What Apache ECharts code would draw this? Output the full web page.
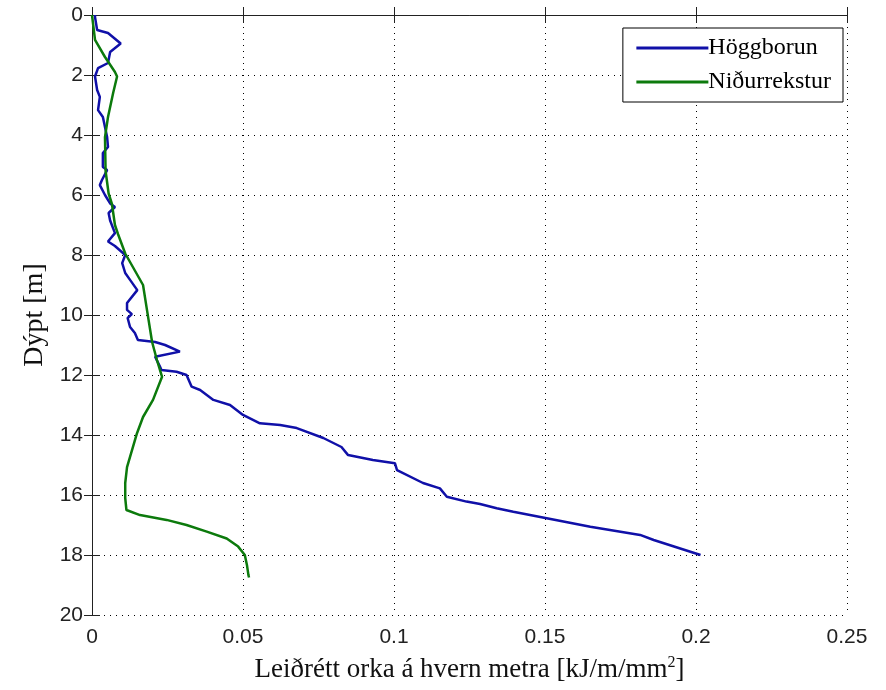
<!DOCTYPE html>
<html>
<head>
<meta charset="utf-8">
<script src="https://cdn.jsdelivr.net/npm/echarts@6/dist/echarts.min.js"></script>
<style>
  html, body { margin: 0; padding: 0; background: #fff; }
  #chart { width: 886px; height: 690px; }
</style>
</head>
<body>
<div id="chart"></div>
<script>
// Höggborun: energy per metre vs depth
const hoggEnergy = [0.001, 0.001, 0.0017, 0.0053, 0.0095, 0.006, 0.0053, 0.002, 0.001, 0.0017, 0.0026, 0.002, 0.0036, 0.005, 0.0053, 0.0036, 0.0036, 0.005, 0.0033, 0.0026, 0.0043, 0.006, 0.0076, 0.0055, 0.006, 0.0076, 0.0053, 0.0076, 0.011, 0.01, 0.011, 0.0126, 0.015, 0.0116, 0.0116, 0.0132, 0.0118, 0.0126, 0.0142, 0.0152, 0.0209, 0.0242, 0.0291, 0.0209, 0.0225, 0.023, 0.028, 0.0313, 0.033, 0.0358, 0.0402, 0.0457, 0.05, 0.0556, 0.0623, 0.0678, 0.0766, 0.0826, 0.0848, 0.093, 0.1003, 0.101, 0.1096, 0.1152, 0.1175, 0.124, 0.1285, 0.134, 0.1395, 0.151, 0.165, 0.1815, 0.186, 0.2015]
const hoggDepth = [0, 0.07, 0.5, 0.6, 0.95, 1.23, 1.6, 1.77, 2.05, 2.5, 2.73, 3.17, 3.4, 4.07, 4.4, 4.6, 5.07, 5.17, 5.5, 5.67, 6.0, 6.28, 6.4, 6.6, 6.85, 7.27, 7.55, 7.7, 8.0, 8.27, 8.6, 8.83, 9.17, 9.6, 9.83, 9.97, 10.1, 10.4, 10.6, 10.83, 10.9, 11.0, 11.22, 11.39, 11.72, 11.83, 11.89, 12.0, 12.39, 12.5, 12.83, 13.0, 13.33, 13.61, 13.67, 13.77, 14.1, 14.4, 14.67, 14.83, 14.94, 15.17, 15.6, 15.78, 16.06, 16.22, 16.3, 16.44, 16.56, 16.78, 17.06, 17.33, 17.5, 18.0]

// Niðurrekstur
const nidurEnergy = [0, 0.001, 0.0043, 0.0076, 0.0083, 0.007, 0.0053, 0.0043, 0.0045, 0.0055, 0.0066, 0.0076, 0.0086, 0.011, 0.0169, 0.0182, 0.0199, 0.0215, 0.0232, 0.0202, 0.0169, 0.0149, 0.0116, 0.011, 0.011, 0.0114, 0.0159, 0.0247, 0.0313, 0.038, 0.0446, 0.0484, 0.0506, 0.0513, 0.0518, 0.052]
const nidurDepth = [0, 0.83, 1.4, 1.9, 2.05, 2.6, 3.4, 4.07, 5.2, 5.95, 6.3, 7.0, 7.3, 7.95, 9.0, 9.83, 10.9, 11.5, 12.06, 12.83, 13.4, 13.94, 15.07, 15.6, 16.1, 16.5, 16.67, 16.83, 17.0, 17.22, 17.45, 17.72, 18.0, 18.33, 18.67, 18.75]

const xTicks = [0, 0.05, 0.1, 0.15, 0.2, 0.25]
const yTicks = [0, 2, 4, 6, 8, 10, 12, 14, 16, 18, 20]

const seriesNames = ['Höggborun', 'Niðurrekstur']
const seriesColors = ['#1010a8', '#0c7a0c']

const chart = echarts.init(document.getElementById('chart'))

const serif = 'Liberation Serif, Times New Roman, serif'
const tickFont = { color: '#222', fontSize: 21, fontFamily: 'Liberation Sans, Arial, sans-serif' }
const dotted = { color: '#000', width: 1, type: [1, 5] }
const axisLine = { lineStyle: { color: '#222', width: 1 } }

function pairs(xs, ys) {
  return xs.map((x, i) => [x, ys[i]])
}

chart.setOption({
  animation: false,
  backgroundColor: '#fff',
  grid: { left: 92, right: 39, top: 15, bottom: 75 },
  legend: {
    orient: 'vertical',
    right: 43,
    top: 28,
    data: seriesNames,
    backgroundColor: '#fff',
    borderColor: '#000',
    borderWidth: 1,
    padding: [8, 12, 8, 12],
    itemWidth: 72,
    itemHeight: 14,
    itemGap: 10,
    itemStyle: { opacity: 0 },
    lineStyle: { width: 3 },
    textStyle: { fontFamily: serif, fontSize: 24, color: '#000', padding: [0, 0, 0, -5] }
  },
  xAxis: [
    {
      type: 'value', min: 0, max: 0.25, interval: 0.05,
      axisLine,
      axisTick: { inside: true, length: 8, lineStyle: { color: '#222' } },
      axisLabel: { ...tickFont, margin: 12, formatter: v => xTicks.includes(+v.toFixed(2)) ? String(+v.toFixed(2)) : '' },
      splitLine: { show: true, lineStyle: dotted },
      name: 'Leiðrétt orka á hvern metra [kJ/m/mm{sup|2}]',
      nameLocation: 'middle',
      nameGap: 40,
      nameTextStyle: {
        fontFamily: serif, fontSize: 27, color: '#111',
        rich: { sup: { fontFamily: serif, fontSize: 16, color: '#111', verticalAlign: 'top', padding: [0, 0, 14, 0] } }
      }
    },
    {
      type: 'value', position: 'top', min: 0, max: 0.25, interval: 0.05,
      axisLine,
      axisTick: { inside: true, length: 8, lineStyle: { color: '#222' } },
      axisLabel: { show: false },
      splitLine: { show: false }
    }
  ],
  yAxis: [
    {
      type: 'value', inverse: true, min: 0, max: 20, interval: 2,
      axisLine,
      axisTick: { inside: true, length: 8, lineStyle: { color: '#222' } },
      axisLabel: { ...tickFont, margin: 9, formatter: v => yTicks.includes(v) ? String(v) : '' },
      splitLine: { show: true, lineStyle: dotted },
      name: 'Dýpt [m]',
      nameLocation: 'middle',
      nameGap: 40,
      nameTextStyle: { fontFamily: serif, fontSize: 28, color: '#111' }
    },
    {
      type: 'value', position: 'right', inverse: true, min: 0, max: 20, interval: 2,
      axisLine,
      axisTick: { inside: true, length: 8, lineStyle: { color: '#222' } },
      axisLabel: { show: false },
      splitLine: { show: false }
    }
  ],
  series: [
    {
      name: seriesNames[0], type: 'line', symbol: 'none',
      data: pairs(hoggEnergy, hoggDepth),
      lineStyle: { color: seriesColors[0], width: 2.5 },
      itemStyle: { color: seriesColors[0] }
    },
    {
      name: seriesNames[1], type: 'line', symbol: 'none',
      data: pairs(nidurEnergy, nidurDepth),
      lineStyle: { color: seriesColors[1], width: 2.5 },
      itemStyle: { color: seriesColors[1] }
    }
  ]
})
</script>
</body>
</html>
